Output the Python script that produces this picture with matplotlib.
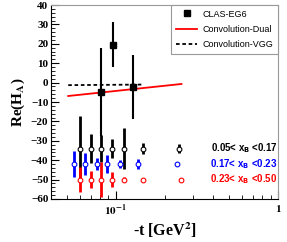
import numpy as np
import matplotlib
matplotlib.use('Agg')
import matplotlib.pyplot as plt
from matplotlib.lines import Line2D
from matplotlib.ticker import MultipleLocator, FixedLocator, NullFormatter

plt.rcParams['mathtext.fontset'] = 'stix'

# CLAS-EG6 data
t_clas = [0.081, 0.096, 0.127]
re_clas = [-4.8, 19.5, -2.3]
err_clas = [22.6, 11.6, 16.3]

# model curves
t_dual = [0.051, 0.1, 0.254]
re_dual = [-6.9, -4.3, -0.7]
t_vgg = [0.051, 0.148]
re_vgg = [-1.3, -1.0]

# convolution points in x_B bins
t_bin1 = [0.0601, 0.0703, 0.0809, 0.0945, 0.112, 0.147, 0.244]
re_bin1 = [-34, -34, -34, -34, -34, -34, -34]
err_bin1 = [17, 7.5, 7, 5, 10.8, 3, 2.5]

t_bin2 = [0.0552, 0.0645, 0.0764, 0.088, 0.106, 0.138, 0.240]
re_bin2 = [-42, -42, -42, -42, -42, -42, -42]
err_bin2 = [6.5, 5.7, 3, 4.6, 2, 2.5, 0.5]

t_bin3 = [0.0601, 0.0703, 0.0809, 0.0945, 0.112, 0.147, 0.251]
re_bin3 = [-50, -50, -50, -50, -50, -50, -50]
err_bin3 = [6.3, 4.6, 9, 4, 1.5, 1, 0.5]

bin_labels = [r'0.05< x$_{\mathbf{B}}$ <0.17',
              r'0.17< x$_{\mathbf{B}}$ <0.23',
              r'0.23< x$_{\mathbf{B}}$ <0.50']

fig = plt.figure(figsize=(2.87, 2.42), dpi=100)
ax = fig.add_axes([0.178, 0.178, 0.791, 0.801])

ax.plot(t_dual, re_dual, color='red', lw=1.3, zorder=3)
ax.plot(t_vgg, re_vgg, color='black', lw=1.3, ls=(0, (2, 1.5)), zorder=3)

for t, r, e, c in [(t_bin1, re_bin1, err_bin1, 'black'),
                   (t_bin2, re_bin2, err_bin2, 'blue'),
                   (t_bin3, re_bin3, err_bin3, 'red')]:
    ax.errorbar(t, r, yerr=e, fmt='o', color=c, mfc='white', mec=c, ms=3.4,
                mew=0.8, elinewidth=2.0, capsize=0, zorder=4)

ax.errorbar(t_clas, re_clas, yerr=err_clas, fmt='s', color='black', ms=5,
            elinewidth=1.5, capsize=0, zorder=5)

ax.set_xscale('log')
ax.set_xlim(0.04, 1.0)
ax.set_ylim(-60, 40)

ax.xaxis.set_major_locator(FixedLocator([0.1, 1.0]))
ax.set_xticklabels([r'$\mathbf{10^{-1}}$', r'$\mathbf{1}$'], fontsize=8)
ax.xaxis.set_minor_locator(FixedLocator([0.04, 0.05, 0.06, 0.07, 0.08, 0.09,
                                         0.2, 0.3, 0.4, 0.5, 0.6, 0.7, 0.8, 0.9]))
ax.xaxis.set_minor_formatter(NullFormatter())
ax.yaxis.set_major_locator(MultipleLocator(10))
ax.yaxis.set_minor_locator(MultipleLocator(2))
ax.tick_params(which='both', direction='in', top=False, right=False)
ax.tick_params(which='major', length=6, width=0.8)
ax.tick_params(which='minor', length=3, width=0.6)
ax.tick_params(axis='x', pad=3)
ax.tick_params(axis='y', pad=2)
for lab in ax.get_yticklabels():
    lab.set_family('Liberation Serif')
    lab.set_weight('bold')
    lab.set_fontsize(8)

ax.spines['top'].set_color('#999999')
ax.spines['right'].set_color('#999999')

ax.set_ylabel(r'Re(H$_{\mathbf{A}}$)', family='Liberation Serif', weight='bold',
              fontsize=11, labelpad=3)
ax.set_xlabel(r'-t [GeV$^{\mathbf{2}}$]', family='Liberation Serif', weight='bold',
              fontsize=11.5, labelpad=2)

for lab, c, y in zip(bin_labels, ['black', 'blue', 'red'], [-34, -42, -50]):
    ax.text(0.998, y, lab, color=c, transform=ax.get_yaxis_transform(), ha='right',
            va='center', family='Liberation Sans', weight='bold', fontsize=7,
            math_fontfamily='dejavusans')

handles = [Line2D([], [], ls='none', marker='s', color='black', ms=5),
           Line2D([], [], color='red', lw=1.3),
           Line2D([], [], color='black', lw=1.3, ls=(0, (2, 1.5)))]
labels = ['CLAS-EG6', 'Convolution-Dual', 'Convolution-VGG']
leg = ax.legend(handles, labels, loc='upper right',
                borderaxespad=0, fancybox=False, edgecolor='#999999', framealpha=1,
                prop={'family': 'Liberation Sans', 'size': 6.5}, handlelength=2.4,
                labelspacing=0.7, borderpad=0.5, handletextpad=0.6)
leg.get_frame().set_linewidth(0.8)

fig.savefig('out.png', dpi=100)
